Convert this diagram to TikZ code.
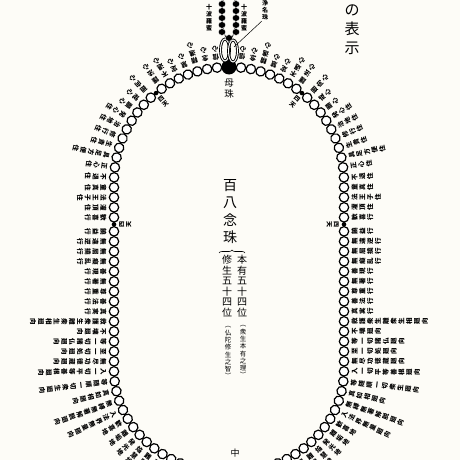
\documentclass[tikz,border=0pt]{standalone}
\usepackage{fontspec}
\newfontfamily\cjk{Noto Sans CJK JP}
\usetikzlibrary{decorations.markings,decorations.pathreplacing}
\definecolor{paper}{RGB}{253,252,247}

% vertical (tategaki) text: one character per line
\newcommand\vsp{1.15em}
\newcommand\vst[2][1.15em]{\vbox{\offinterlineskip\renewcommand\vsp{#1}\expandafter\vstx#2\relax}}
\def\vstx#1#2\relax{\hbox to 1em{\hss\vrule height\dimexpr\vsp/2+.38em\relax depth\dimexpr\vsp/2-.38em\relax width0pt\smash{#1}\hss}\ifx\relax#2\relax\else\vstx#2\relax\fi}

\tikzset{
  bead/.style={draw, line width=1.2pt, fill=white},
  lab/.style={font=\cjk\bfseries\fontsize{6.5}{6.5}\selectfont, inner sep=0pt, transform shape, anchor=north},
  rlab/.style={lab, rotate=180},
  llab/.style={lab},
  chainbead/.style={fill=black, draw=white, line width=.3pt},
  ring/.style={draw, line width=.9pt, double=white, double distance=1pt},
}

\begin{document}
\begin{tikzpicture}[x=1pt, y=-1pt]
\useasboundingbox (0,0) rectangle (460,460);
\clip (0,0) rectangle (460,460);
\fill[paper] (0,0) rectangle (460,460);

% the two halves of the loop, from the mother bead down
\def\rside{(229,67) arc[start angle=270,end angle=360,radius=115] -- (344,370) arc[start angle=0,end angle=90,x radius=115,y radius=103]}
\def\lside{(229,67) arc[start angle=270,end angle=180,radius=115] -- (114,370) arc[start angle=180,end angle=90,x radius=115,y radius=103]}

\foreach \lab [count=\k] in {信心,念心,精進心,慧心,定心,不退心,護法心,廻向心,戒心,願心,
  発心住,治地住,修行住,生貴住,具足方便住,正心住,不退住,童真住,法王子住,灌頂住,
  歓喜行,饒益行,無違逆行,無屈撓行,無癡乱行,善現行,無著行,尊重行,善法行,真実行,
  救護衆生離衆生相廻向,不壊廻向,等一切諸仏廻向,至一切処廻向,無尽功徳蔵廻向,
  入一切平等善根廻向,等随順一切衆生廻向,真如相廻向,無縛無著解脱廻向,入法界無量廻向,
  歓喜地,離垢地,発光地,焔慧地,難勝地,現前地,遠行地,不動地,善慧地,法雲地,等覚,妙覚}{
  \pgfmathsetmacro{\bpos}{12+(\k-1)*10+4*(\k>7)+4*(\k>21)}
  \path[decorate,decoration={markings,mark=at position \bpos pt with {
      \draw[bead] (0pt,0pt) circle[radius=4.7pt];
      \node[rlab] (r\k) at (0pt,6.5pt) {\vst[1.2em]{\lab}};}}] \rside;
  \path[decorate,decoration={markings,mark=at position \bpos pt with {
      \draw[bead] (0pt,0pt) circle[radius=4.7pt];
      \node[llab] (l\k) at (0pt,-6.5pt) {\vst[1.2em]{\lab}};}}] \lside;
}

% 四天
\foreach \d in {79,223}{
  \path[decorate,decoration={markings,mark=at position \d pt with {
      \fill (0pt,0pt) circle[radius=2.3pt];
      \node[lab, font=\cjk\bfseries\fontsize{6}{6}\selectfont] at (0pt,-4pt) {\vst{四天}};}}] \rside;
  \path[decorate,decoration={markings,mark=at position \d pt with {
      \fill (0pt,0pt) circle[radius=2.3pt];
      \node[lab, rotate=180, font=\cjk\bfseries\fontsize{6}{6}\selectfont] at (0pt,4pt) {\vst{四天}};}}] \lside;
}

% mother bead, rings and chain
\node[circle, fill, minimum size=15pt, inner sep=0pt] (mother) at (229,67) {};
\draw[ring] (225,50) ellipse[x radius=4.5, y radius=11];
\draw[ring] (233,51) ellipse[x radius=4.5, y radius=11];
\draw[line width=.6pt] (229,14) ellipse[x radius=7, y radius=26];
\foreach \y in {-3,4,...,33}{
  \fill[chainbead] (222,\y) ellipse[x radius=3.6, y radius=3.3];
  \fill[chainbead] (236,\y) ellipse[x radius=3.6, y radius=3.3];
}
\fill[chainbead] (229,38) ellipse[x radius=3.6, y radius=3.3];
\node[font=\cjk\bfseries\fontsize{6}{6}\selectfont, inner sep=0pt] (ktxl) at (209,18) {\vst{十波羅蜜}};
\node[font=\cjk\bfseries\fontsize{6}{6}\selectfont, inner sep=0pt] (ktxr) at (244,18) {\vst{十波羅蜜}};
\node[font=\cjk\bfseries\fontsize{6}{6}\selectfont, inner sep=0pt, anchor=north] (lead) at (265,0) {\vst{浄名珠}};
\coordinate (ringpt) at (234,47);
\draw[line width=.5pt] (lead.south west) -- (ringpt);

% texts
\node[font=\cjk\fontsize{15}{15}\selectfont, inner sep=0pt] (title) at (352,29) {\vst[1.27em]{の表示}};
\node[font=\cjk\fontsize{9.5}{9.5}\selectfont, inner sep=0pt] (mzhu) at (229,88) {\vst{母珠}};
\node[font=\cjk\fontsize{14}{14}\selectfont, inner sep=0pt] (main) at (230,211) {\vst[1.25em]{百八念珠}};
\draw[decorate, decoration={brace, amplitude=3pt}, line width=.6pt] (219,253) -- (245,253);
\node[font=\cjk\fontsize{10}{10}\selectfont, inner sep=0pt] (shu) at (227,286) {\vst[1.05em]{修生五十四位}};
\node[font=\cjk\fontsize{10}{10}\selectfont, inner sep=0pt] (hon) at (242,286) {\vst[1.05em]{本有五十四位}};
\node[font=\cjk\fontsize{6.5}{6.5}\selectfont, inner sep=0pt] (shuc) at (228,351) {\vst[1.12em]{︵仏陀修生之智︶}};
\node[font=\cjk\fontsize{6.5}{6.5}\selectfont, inner sep=0pt] (honc) at (243,350) {\vst[1.12em]{︵衆生本有之理︶}};
\node[font=\cjk\fontsize{9}{9}\selectfont, inner sep=0pt] (naka) at (235,453) {中};
\end{tikzpicture}
\end{document}
